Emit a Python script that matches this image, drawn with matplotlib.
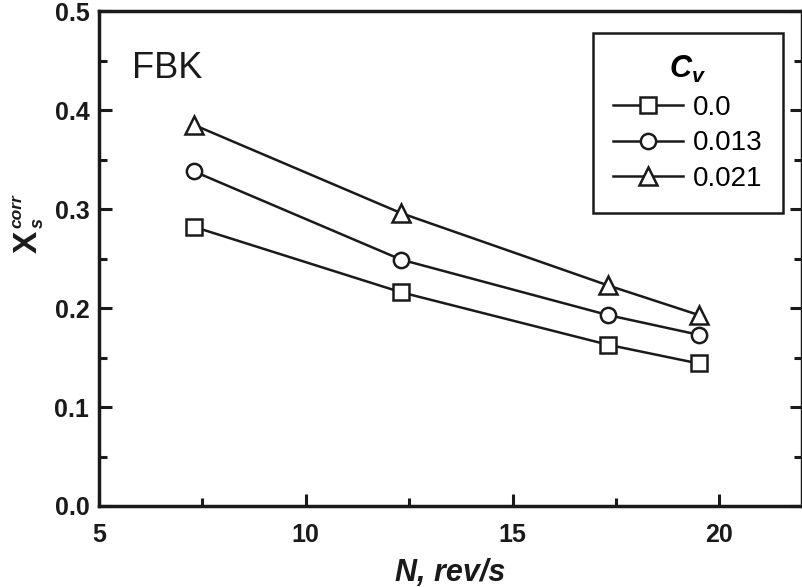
import matplotlib
matplotlib.use("Agg")
import matplotlib.pyplot as plt
from matplotlib.ticker import MultipleLocator, FormatStrFormatter

plt.rcParams['font.family'] = ['Liberation Sans', 'DejaVu Sans']
plt.rcParams['mathtext.fontset'] = 'custom'
plt.rcParams['mathtext.it'] = 'Liberation Sans:italic:bold'
plt.rcParams['mathtext.rm'] = 'Liberation Sans:bold'
plt.rcParams['mathtext.bf'] = 'Liberation Sans:bold'

N = [7.3, 12.3, 17.3, 19.5]
series_labels = ['0.0', '0.013', '0.021']
x_cv0 = [0.282, 0.216, 0.163, 0.144]
x_cv013 = [0.338, 0.249, 0.193, 0.173]
x_cv021 = [0.385, 0.296, 0.223, 0.193]
markers = ['s', 'o', '^']

W, H = 803, 587
fig = plt.figure(figsize=(W / 100, H / 100), dpi=100)
ax = fig.add_axes([0.1233, 0.138, 0.8755, 0.843])

for ys, m, lab in zip([x_cv0, x_cv013, x_cv021], markers, series_labels):
    ms = 13 if m == '^' else 11
    ax.plot(N, ys, color='#1a1a1a', lw=1.8, marker=m, ms=ms,
            mfc='white', mec='#1a1a1a', mew=1.8, label=lab)

ax.set_xlim(5, 22)
ax.set_ylim(0, 0.5)
ax.xaxis.set_major_locator(MultipleLocator(5))
ax.xaxis.set_minor_locator(MultipleLocator(2.5))
ax.yaxis.set_major_locator(MultipleLocator(0.1))
ax.yaxis.set_minor_locator(MultipleLocator(0.05))
ax.yaxis.set_major_formatter(FormatStrFormatter('%.1f'))

ax.tick_params(which='both', direction='in', right=True, top=False, width=2.2, color='#1a1a1a')
ax.tick_params(which='major', length=9, labelsize=18)
ax.tick_params(axis='x', which='major', pad=12)
ax.tick_params(axis='y', which='major', pad=7)
ax.tick_params(which='minor', length=6)
for lbl in ax.get_xticklabels() + ax.get_yticklabels():
    lbl.set_fontweight('bold')
    lbl.set_color('#1a1a1a')
for s in ax.spines.values():
    s.set_linewidth(2.5)
    s.set_color('#1a1a1a')

ax.set_xlabel('N, rev/s', fontsize=22, fontweight='bold', fontstyle='italic', labelpad=8, color='#1a1a1a')

# y-axis label X_s^corr built from pieces (rotated)
def ftext(px, py, s, size, style='italic'):
    fig.text(px / W, 1 - py / H, s, rotation=90, rotation_mode='anchor',
             ha='left', va='baseline', fontsize=size, fontweight='bold',
             fontstyle=style, color='#1a1a1a')

ftext(37, 253, 'X', 24, style='normal')
ftext(43, 228, 's', 13)
ftext(21, 228, 'corr', 12.5)

ax.text(0.047, 0.885, 'FBK', transform=ax.transAxes, fontsize=26, color='#1a1a1a', va='center', ha='left')

leg = ax.legend(title=r'$C_v$', loc='upper right', bbox_to_anchor=(0.973, 0.956),
                fontsize=20, title_fontsize=22, frameon=True, fancybox=False,
                framealpha=1, edgecolor='#1a1a1a', handlelength=2.5, handletextpad=0.35,
                labelspacing=0.35, borderpad=0.75, borderaxespad=0)
leg.get_frame().set_linewidth(1.8)
leg._legend_box.align = 'center'

fig.savefig('out.png', dpi=100)
